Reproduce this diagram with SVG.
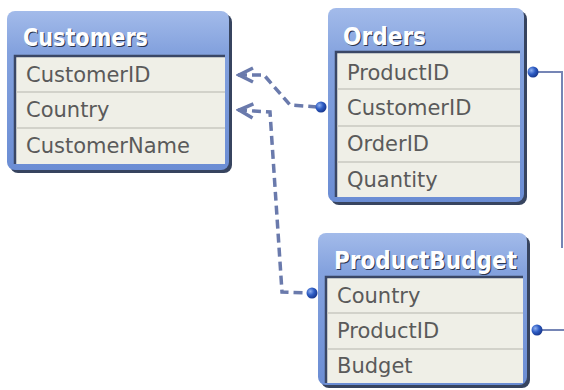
<svg xmlns="http://www.w3.org/2000/svg" width="564" height="390" viewBox="0 0 564 390">
<defs>
<linearGradient id="hdr" x1="0" y1="0" x2="0" y2="1">
<stop offset="0" stop-color="#a3bbea"/>
<stop offset="0.25" stop-color="#84a2de"/>
<stop offset="1" stop-color="#6b8dd4"/>
</linearGradient>
<radialGradient id="dot" cx="0.35" cy="0.35" r="0.7">
<stop offset="0" stop-color="#8fb0f0"/>
<stop offset="0.5" stop-color="#2d5cc4"/>
<stop offset="1" stop-color="#17358a"/>
</radialGradient>
<marker id="arr" viewBox="0 0 20 20" refX="2" refY="10" markerWidth="20" markerHeight="20" markerUnits="userSpaceOnUse" orient="auto">
<path d="M17,3 L3,10 L17,17" fill="none" stroke="#6a7aac" stroke-width="3.5" stroke-linejoin="miter"/>
</marker>
</defs>
<style>
.shadow{fill:#37445f}
.frame{fill:url(#hdr)}
.body{fill:#efefe7;stroke:none}
.edge{stroke:#3a4766;stroke-width:2.5;fill:none}
.sep{stroke:#c9c9c1;stroke-width:1.5}
.title{font-family:"DejaVu Sans",sans-serif;font-weight:bold;font-size:24px;fill:#ffffff}
.tsh{font-family:"DejaVu Sans",sans-serif;font-weight:bold;font-size:24px;fill:#2c3650}
.fld{font-family:"DejaVu Sans",sans-serif;font-size:21px;fill:#5a5a5a}
.con{fill:none;stroke:#6a7aac;stroke-width:3.5;stroke-dasharray:9,5}
.rel{fill:none;stroke:#7585b5;stroke-width:2}
.dot{fill:url(#dot)}
</style>
<g id="connectors">
<path class="con" d="M238,75 L264,75 L290,105 L318,107" marker-start="url(#arr)"/>
<path class="con" d="M238,110 L270,112 L282,292 L308,293" marker-start="url(#arr)"/>
<path class="rel" d="M533,72 L562,72 L562,248"/>
<path class="rel" d="M537,330 L564,330"/>
<circle class="dot" cx="321" cy="107" r="5.5"/>
<circle class="dot" cx="312" cy="293" r="5.5"/>
<circle class="dot" cx="533" cy="72" r="5.5"/>
<circle class="dot" cx="537" cy="330" r="5.5"/>
</g>
<g id="customers">
<rect class="shadow" x="10" y="14" width="222" height="159" rx="8"/>
<rect class="frame" x="7" y="11" width="222" height="159" rx="8"/>
<rect class="body" x="14" y="55" width="211" height="109"/>
<path class="edge" d="M15,164 L15,56 L225,56"/>
<line class="sep" x1="16" y1="92" x2="225" y2="92"/>
<line class="sep" x1="16" y1="128" x2="225" y2="128"/>
<text class="tsh" x="24" y="47" textLength="125" lengthAdjust="spacingAndGlyphs">Customers</text>
<text class="title" x="23" y="46" textLength="125" lengthAdjust="spacingAndGlyphs">Customers</text>
<text class="fld" x="26" y="82">CustomerID</text>
<text class="fld" x="26" y="117">Country</text>
<text class="fld" x="26" y="153">CustomerName</text>
</g>
<g id="orders">
<rect class="shadow" x="331" y="11" width="196" height="194" rx="8"/>
<rect class="frame" x="328" y="8" width="196" height="194" rx="8"/>
<rect class="body" x="335" y="51" width="185" height="146"/>
<path class="edge" d="M336,197 L336,52 L520,52"/>
<line class="sep" x1="337" y1="89" x2="520" y2="89"/>
<line class="sep" x1="337" y1="126" x2="520" y2="126"/>
<line class="sep" x1="337" y1="162" x2="520" y2="162"/>
<text class="tsh" x="344" y="46" textLength="83" lengthAdjust="spacingAndGlyphs">Orders</text>
<text class="title" x="343" y="45" textLength="83" lengthAdjust="spacingAndGlyphs">Orders</text>
<text class="fld" x="347" y="80">ProductID</text>
<text class="fld" x="347" y="115">CustomerID</text>
<text class="fld" x="347" y="151">OrderID</text>
<text class="fld" x="347" y="187">Quantity</text>
</g>
<g id="productbudget">
<rect class="shadow" x="321" y="236" width="209" height="152" rx="8"/>
<rect class="frame" x="318" y="233" width="209" height="152" rx="8"/>
<rect class="body" x="325" y="276" width="198" height="107"/>
<path class="edge" d="M326,383 L326,277 L523,277"/>
<line class="sep" x1="327" y1="313" x2="523" y2="313"/>
<line class="sep" x1="327" y1="349" x2="523" y2="349"/>
<text class="tsh" x="335" y="270" textLength="183" lengthAdjust="spacingAndGlyphs">ProductBudget</text>
<text class="title" x="334" y="269" textLength="183" lengthAdjust="spacingAndGlyphs">ProductBudget</text>
<text class="fld" x="337" y="303">Country</text>
<text class="fld" x="337" y="338">ProductID</text>
<text class="fld" x="337" y="373">Budget</text>
</g>
</svg>
